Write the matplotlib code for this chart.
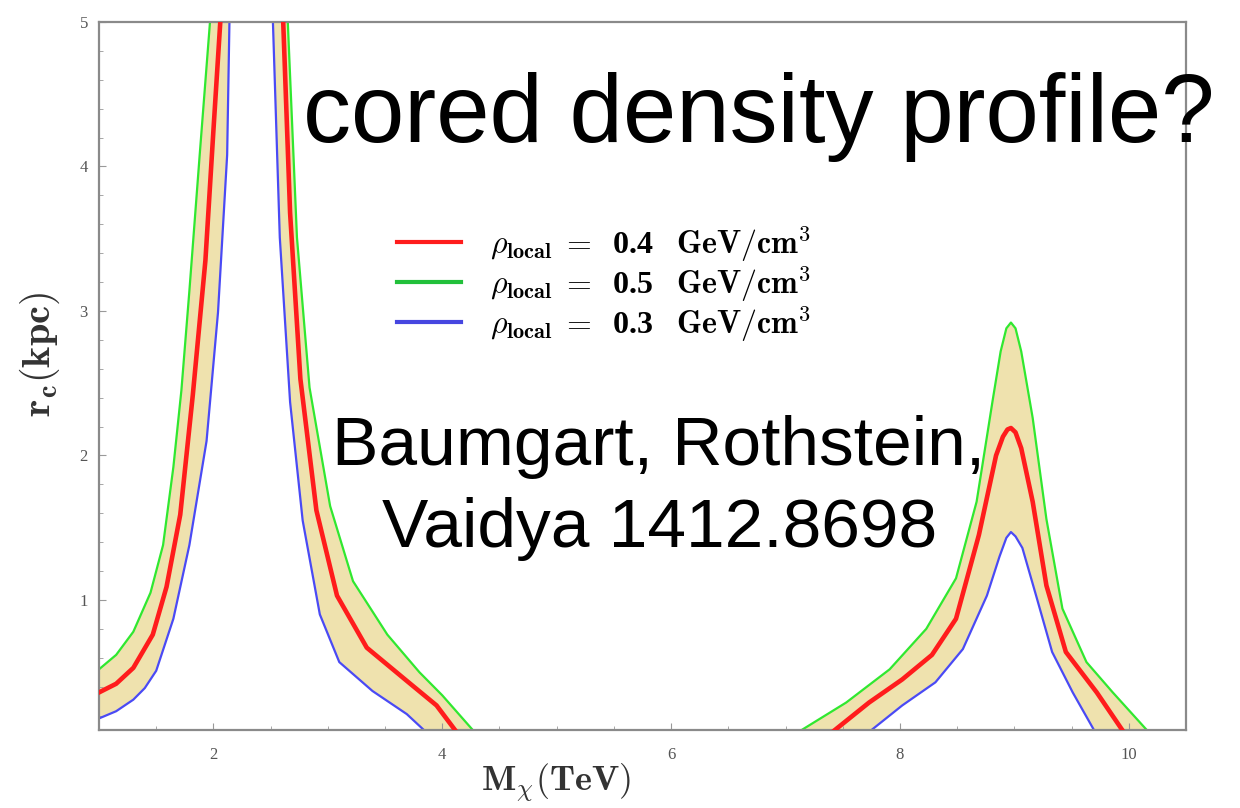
import matplotlib
matplotlib.use('Agg')
import matplotlib.pyplot as plt
import numpy as np

plt.rcParams['mathtext.fontset'] = 'cm'
plt.rcParams['font.family'] = ['Liberation Serif', 'DejaVu Serif']

# left peak, rising branch (M in TeV, r_c in kpc)
g_left_x = [1.0, 1.15, 1.30, 1.45, 1.56, 1.65, 1.72, 1.79, 1.88, 1.97, 2.00]
g_left_y = [0.52, 0.62, 0.78, 1.05, 1.38, 1.92, 2.45, 3.14, 4.08, 5.00, 5.30]
r_left_x = [1.0, 1.15, 1.30, 1.47, 1.59, 1.71, 1.82, 1.93, 2.00, 2.06, 2.08]
r_left_y = [0.36, 0.42, 0.53, 0.76, 1.09, 1.59, 2.42, 3.35, 4.25, 5.00, 5.30]
b_left_x = [1.0, 1.15, 1.30, 1.40, 1.50, 1.65, 1.79, 1.94, 2.04, 2.12, 2.14, 2.15]
b_left_y = [0.18, 0.23, 0.31, 0.39, 0.51, 0.87, 1.38, 2.10, 2.99, 4.08, 5.00, 5.30]

# left peak, falling branch
g_fall_x = [2.63, 2.65, 2.73, 2.84, 3.02, 3.22, 3.52, 3.80, 4.00, 4.30]
g_fall_y = [5.30, 5.00, 3.51, 2.47, 1.65, 1.13, 0.76, 0.50, 0.34, 0.07]
r_fall_x = [2.60, 2.61, 2.67, 2.76, 2.90, 3.08, 3.34, 3.69, 3.95, 4.14]
r_fall_y = [5.30, 5.00, 3.68, 2.53, 1.62, 1.03, 0.67, 0.44, 0.27, 0.07]
b_fall_x = [2.51, 2.52, 2.58, 2.67, 2.78, 2.93, 3.10, 3.39, 3.69, 3.88]
b_fall_y = [5.30, 5.00, 3.51, 2.37, 1.55, 0.90, 0.57, 0.37, 0.21, 0.07]

# second resonance near 9 TeV
g_res_x = [7.10, 7.53, 7.91, 8.23, 8.49, 8.67, 8.81, 8.88, 8.93, 8.97, 9.01, 9.06, 9.16, 9.28, 9.42, 9.63, 9.86, 10.18]
g_res_y = [0.08, 0.29, 0.52, 0.80, 1.15, 1.68, 2.38, 2.72, 2.88, 2.92, 2.88, 2.72, 2.26, 1.56, 0.94, 0.57, 0.36, 0.08]
r_res_x = [7.40, 7.73, 8.02, 8.28, 8.49, 8.69, 8.84, 8.90, 8.94, 8.97, 9.01, 9.06, 9.16, 9.28, 9.45, 9.72, 9.96]
r_res_y = [0.08, 0.29, 0.45, 0.62, 0.87, 1.45, 2.00, 2.13, 2.18, 2.19, 2.16, 2.05, 1.68, 1.10, 0.64, 0.36, 0.08]
b_res_x = [7.72, 8.02, 8.31, 8.55, 8.76, 8.87, 8.93, 8.97, 9.01, 9.07, 9.19, 9.33, 9.51, 9.71]
b_res_y = [0.08, 0.27, 0.43, 0.66, 1.03, 1.30, 1.43, 1.47, 1.44, 1.36, 1.03, 0.64, 0.36, 0.08]

rho_values = ['0.4', '0.5', '0.3']
labels = [r'$\rho_{\mathbf{local}}\;=\;$ ' + v + r' $\;\;\mathbf{GeV/cm^3}$' for v in rho_values]

red = '#ff1c1c'
green = '#30e830'
blue = '#4a4af5'
band = '#efe2ae'

fig = plt.figure(figsize=(12.4, 8.08), dpi=100)
ax = fig.add_axes([99 / 1240, 1 - 730 / 808, 1087 / 1240, 708 / 808])

pairs = [(g_left_x, g_left_y, b_left_x, b_left_y),
         (g_fall_x, g_fall_y, b_fall_x, b_fall_y),
         (g_res_x, g_res_y, b_res_x, b_res_y)]
for gx, gy, bx, by in pairs:
    ax.fill(list(gx) + list(bx[::-1]), list(gy) + list(by[::-1]),
            color=band, lw=0, zorder=1)

for xs, ys in [(g_left_x, g_left_y), (g_fall_x, g_fall_y), (g_res_x, g_res_y)]:
    ax.plot(xs, ys, color=green, lw=1.6, zorder=2)
for xs, ys in [(b_left_x, b_left_y), (b_fall_x, b_fall_y), (b_res_x, b_res_y)]:
    ax.plot(xs, ys, color=blue, lw=1.6, zorder=2)
for xs, ys in [(r_left_x, r_left_y), (r_fall_x, r_fall_y), (r_res_x, r_res_y)]:
    ax.plot(xs, ys, color=red, lw=3.3, zorder=3)

ax.set_xlim(1, 10.5)
ax.set_ylim(0.1, 5)
ax.set_xticks([2, 4, 6, 8, 10])
ax.set_xticks(np.arange(1.5, 10.5, 0.5), minor=True)
ax.set_yticks([1, 2, 3, 4, 5])
ax.set_yticks(np.arange(0.2, 5.0, 0.2), minor=True)
ax.tick_params(which='both', direction='in', colors='#999999', labelcolor='#555555',
               labelsize=12, top=False, right=False)
ax.tick_params(which='major', length=5)
ax.tick_params(axis='x', which='major', pad=12)
ax.tick_params(axis='y', which='major', pad=8)
ax.tick_params(which='minor', length=3)
for s in ax.spines.values():
    s.set_color('#8a8a8a')
    s.set_linewidth(1.6)

ax.set_ylabel(r'$\mathbf{r_c(kpc)}$', fontsize=29, color='#333333')
ax.yaxis.set_label_coords(-0.034, 0.53)
ax.set_xlabel(r'$\mathbf{M_\chi(TeV)}$', fontsize=26, color='#333333')
ax.xaxis.set_label_coords(0.42, -0.045)

hl = [ax.plot([], [], color=c, lw=3)[0] for c in (red, '#22c03a', '#4646e0')]
fig.legend(hl, labels, loc='upper left', bbox_to_anchor=(397 / 1240, 1 - 224 / 808),
           frameon=False, handlelength=2.0, labelspacing=0.0,
           handletextpad=0.9, borderpad=0, borderaxespad=0,
           prop={'size': 23, 'weight': 'bold'})

sans = ['Liberation Sans', 'DejaVu Sans']
fig.text(303 / 1240, 1 - 142 / 808, 'cored density profile?', family=sans,
         fontsize=69, color='black', va='baseline', ha='left')
fig.text(659 / 1240, 1 - 465 / 808, 'Baumgart, Rothstein,', family=sans,
         fontsize=50, color='black', va='baseline', ha='center')
fig.text(660 / 1240, 1 - 547 / 808, 'Vaidya 1412.8698', family=sans,
         fontsize=50, color='black', va='baseline', ha='center')

fig.savefig('out.png', dpi=100)
